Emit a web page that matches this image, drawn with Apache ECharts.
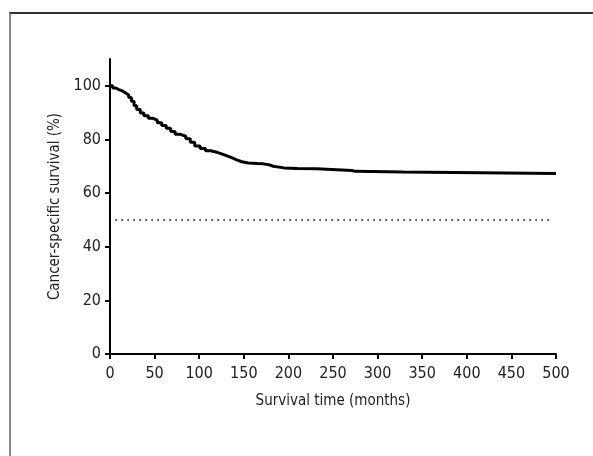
<!DOCTYPE html>
<html>
<head>
<meta charset="utf-8">
<script src="https://cdn.jsdelivr.net/npm/echarts@6/dist/echarts.min.js"></script>
<style>
html,body{margin:0;padding:0;background:#fff;}
#frame{position:absolute;left:9px;top:12px;width:700px;height:600px;border-left:2px solid #8a8a8a;border-top:2px solid #333;box-sizing:border-box;}
#chart{position:absolute;left:0;top:0;width:593px;height:456px;}
</style>
</head>
<body>
<div id="frame"></div>
<div id="chart"></div>
<script>
// Kaplan-Meier estimate: time (months) and cancer-specific survival (%)
const times = [0, 3, 6, 10, 15, 18, 21, 24, 27, 30, 34, 38, 43, 48, 53, 58, 63, 68, 73, 79, 85, 90, 95, 101, 107, 113, 120, 126, 132, 137, 142, 148, 155, 165, 172, 178, 183, 195, 210, 232, 243, 271, 275, 329, 331, 500];
const survival = [100, 99.2, 98.6, 97.9, 97.2, 96.6, 95.6, 94.2, 92.6, 91.2, 89.9, 88.8, 87.9, 87.2, 86.2, 85.2, 84.2, 83.0, 81.9, 81.2, 80.3, 79.0, 77.6, 76.6, 75.8, 75.2, 74.5, 73.8, 73.1, 72.4, 71.7, 71.2, 71.0, 70.9, 70.6, 70.0, 69.4, 69.2, 69.1, 68.9, 68.4, 68.1, 67.9, 67.8, 67.3, 67.2];
const refTimes = [6, 497];
const refValues = [50, 50];
const xTicks = [0, 50, 100, 150, 200, 250, 300, 350, 400, 450, 500];
const yTicks = [0, 20, 40, 60, 80, 100];

const font = '"DejaVu Sans Condensed", sans-serif';
const chart = echarts.init(document.getElementById('chart'), null, {renderer: 'canvas'});
chart.setOption({
  backgroundColor: 'transparent',
  animation: false,
  grid: {left: 110, right: 37, top: 59, bottom: 102, containLabel: false},
  xAxis: {
    type: 'value', min: 0, max: 500, interval: 50,
    name: 'Survival time (months)', nameLocation: 'middle', nameGap: 40,
    nameTextStyle: {color: '#222', fontSize: 15, fontFamily: font},
    axisLine: {show: true, lineStyle: {color: '#000', width: 2}},
    axisTick: {show: true, length: 5, lineStyle: {color: '#000', width: 2}, customValues: xTicks},
    axisLabel: {color: '#222', fontSize: 16, fontFamily: font, margin: 12, customValues: xTicks},
    splitLine: {show: false}
  },
  yAxis: {
    type: 'value', min: 0, max: 110,
    name: 'Cancer-specific survival (%)', nameLocation: 'middle', nameGap: 42,
    nameTextStyle: {color: '#222', fontSize: 15, fontFamily: font},
    axisLine: {show: true, lineStyle: {color: '#000', width: 2}},
    axisTick: {show: true, length: 5, lineStyle: {color: '#000', width: 2}, customValues: yTicks},
    axisLabel: {color: '#222', fontSize: 16, fontFamily: font, margin: 9, customValues: yTicks},
    splitLine: {show: false}
  },
  series: [
    {
      type: 'line', step: 'end', symbol: 'none',
      data: times.map((t, i) => [t, survival[i]]),
      lineStyle: {color: '#000', width: 3},
      z: 3
    },
    {
      type: 'line', symbol: 'none',
      data: refTimes.map((t, i) => [t, refValues[i]]),
      lineStyle: {color: '#000', width: 1.5, type: [1.5, 4.5]},
      z: 2
    }
  ]
});
</script>
</body>
</html>
